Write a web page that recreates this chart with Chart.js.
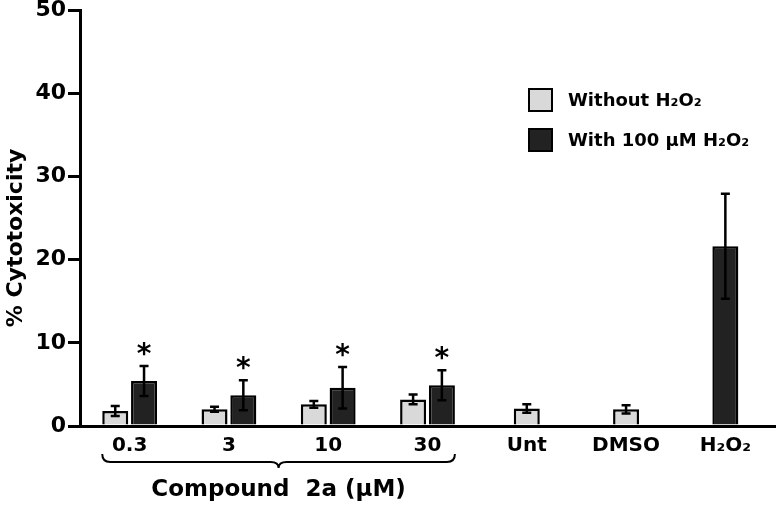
<!DOCTYPE html>
<html>
<head>
<meta charset="utf-8">
<script src="https://cdn.jsdelivr.net/npm/chart.js@4.4.1/dist/chart.umd.min.js"></script>
<style>
  html, body { margin: 0; padding: 0; background: #fff; }
  #wrap { width: 778px; height: 507px; position: relative; }
</style>
</head>
<body>
<div id="wrap"><canvas id="cytoChart"></canvas></div>
<script>
// data
const categories = ['0.3', '3', '10', '30', 'Unt', 'DMSO', 'H\u2082O\u2082'];
const withoutH2O2 = [1.8, 2.0, 2.6, 3.2, 2.1, 2.0, null];
const withoutErr = [0.6, 0.3, 0.4, 0.6, 0.5, 0.5, null];
const withH2O2 = [5.4, 3.7, 4.6, 4.9, null, null, 21.6];
const withErr = [1.8, 1.8, 2.5, 1.8, null, null, 6.3];
const significant = [true, true, true, true, false, false, false];
const yTicks = [0, 10, 20, 30, 40, 50];
const compoundGroup = ['0.3', '3', '10', '30'];
const compoundLabel = 'Compound  2a (\u00b5M)';
const yTitle = '% Cytotoxicity';

const FONT = '"DejaVu Sans", "Liberation Sans", Arial, sans-serif';
const errBars = [withoutErr, withErr];

const errorBarPlugin = {
    id: 'errorBars',
    afterDatasetsDraw(chart) {
        const ctx = chart.ctx;
        const y = chart.scales.y;
        ctx.save();
        ctx.strokeStyle = '#000';
        ctx.lineWidth = 2.5;
        chart.data.datasets.forEach((ds, i) => {
            const meta = chart.getDatasetMeta(i);
            meta.data.forEach((bar, j) => {
                const v = ds.data[j], e = errBars[i][j];
                if (v == null || e == null) return;
                const top = y.getPixelForValue(v + e);
                const bot = y.getPixelForValue(v - e);
                ctx.beginPath();
                ctx.moveTo(bar.x, top); ctx.lineTo(bar.x, bot);
                ctx.moveTo(bar.x - 4.5, top); ctx.lineTo(bar.x + 4.5, top);
                ctx.moveTo(bar.x - 4.5, bot); ctx.lineTo(bar.x + 4.5, bot);
                ctx.stroke();
                // significance marks above the treated bars
                if (i === 1 && significant[j]) {
                    ctx.fillStyle = '#000';
                    ctx.font = 'bold 28px ' + FONT;
                    ctx.textAlign = 'center';
                    ctx.textBaseline = 'alphabetic';
                    ctx.fillText('*', bar.x, top - 3);
                }
            });
        });
        ctx.restore();
    }
};

const extrasPlugin = {
    id: 'extras',
    afterDraw(chart) {
        const ctx = chart.ctx;
        const m0 = chart.getDatasetMeta(0), m1 = chart.getDatasetMeta(1);
        const last = compoundGroup.length - 1;
        const x1 = m0.data[0].x - m0.data[0].width / 2;
        const x2 = m1.data[last].x + m1.data[last].width / 2;
        const xm = (x1 + x2) / 2;
        const yb = chart.scales.x.top + 36;
        ctx.save();
        // curly brace under the compound concentrations
        ctx.strokeStyle = '#000';
        ctx.lineWidth = 2;
        ctx.beginPath();
        ctx.moveTo(x1, yb - 8);
        ctx.quadraticCurveTo(x1, yb, x1 + 8, yb);
        ctx.lineTo(xm - 8, yb);
        ctx.quadraticCurveTo(xm, yb, xm, yb + 6);
        ctx.quadraticCurveTo(xm, yb, xm + 8, yb);
        ctx.lineTo(x2 - 8, yb);
        ctx.quadraticCurveTo(x2, yb, x2, yb - 8);
        ctx.stroke();
        ctx.fillStyle = '#000';
        ctx.font = 'bold 23px ' + FONT;
        ctx.textAlign = 'center';
        ctx.textBaseline = 'middle';
        ctx.fillText(compoundLabel, xm, yb + 28);

        // y axis title, sitting a little below the axis middle as in the figure
        ctx.save();
        ctx.translate(16, 238);
        ctx.rotate(-Math.PI / 2);
        ctx.font = 'bold 22px ' + FONT;
        ctx.fillText(yTitle, 0, 0);
        ctx.restore();

        // legend
        ctx.font = 'bold 18px ' + FONT;
        ctx.textAlign = 'left';
        chart.data.datasets.forEach((ds, i) => {
            const ly = 100 + i * 40;
            ctx.fillStyle = ds.backgroundColor;
            ctx.fillRect(529, ly - 11, 23, 22);
            ctx.lineWidth = 2;
            ctx.strokeRect(529, ly - 11, 23, 22);
            ctx.fillStyle = '#000';
            ctx.fillText(ds.label, 568, ly + 1);
        });
        ctx.restore();
    }
};

new Chart(document.getElementById('cytoChart'), {
    type: 'bar',
    data: {
        labels: categories,
        datasets: [
            {
                label: 'Without H\u2082O\u2082',
                data: withoutH2O2,
                backgroundColor: '#d9d9d9',
                borderColor: '#000',
                borderWidth: 2.5
            },
            {
                label: 'With 100 \u00b5M H\u2082O\u2082',
                data: withH2O2,
                backgroundColor: '#222222',
                borderColor: '#000',
                borderWidth: 2.5
            }
        ]
    },
    options: {
        responsive: true,
        maintainAspectRatio: false,
        animation: false,
        skipNull: true,
        categoryPercentage: 0.58,
        barPercentage: 0.95,
        maxBarThickness: 26,
        layout: { padding: { top: 0, right: 3, left: 0, bottom: 0 } },
        plugins: {
            legend: { display: false },
            tooltip: { enabled: false }
        },
        scales: {
            x: {
                grid: { display: false },
                border: { display: true, color: '#000', width: 3 },
                ticks: {
                    color: '#000',
                    padding: 0,
                    font: { family: FONT, size: 20, weight: 'bold' }
                },
                afterFit(s) { s.height = 81; }
            },
            y: {
                min: 0,
                max: 50,
                afterBuildTicks(s) { s.ticks = yTicks.map(v => ({ value: v })); },
                grid: {
                    display: true,
                    drawOnChartArea: false,
                    drawTicks: true,
                    tickLength: 12,
                    lineWidth: 3,
                    color: '#000'
                },
                border: { display: true, color: '#000', width: 3 },
                ticks: {
                    color: '#000',
                    padding: 2,
                    font: { family: FONT, size: 22, weight: 'bold' }
                },
                title: { display: false },
                afterFit(s) { s.width = 80; s.paddingTop = 10; }
            }
        }
    },
    plugins: [errorBarPlugin, extrasPlugin]
});
</script>
</body>
</html>
